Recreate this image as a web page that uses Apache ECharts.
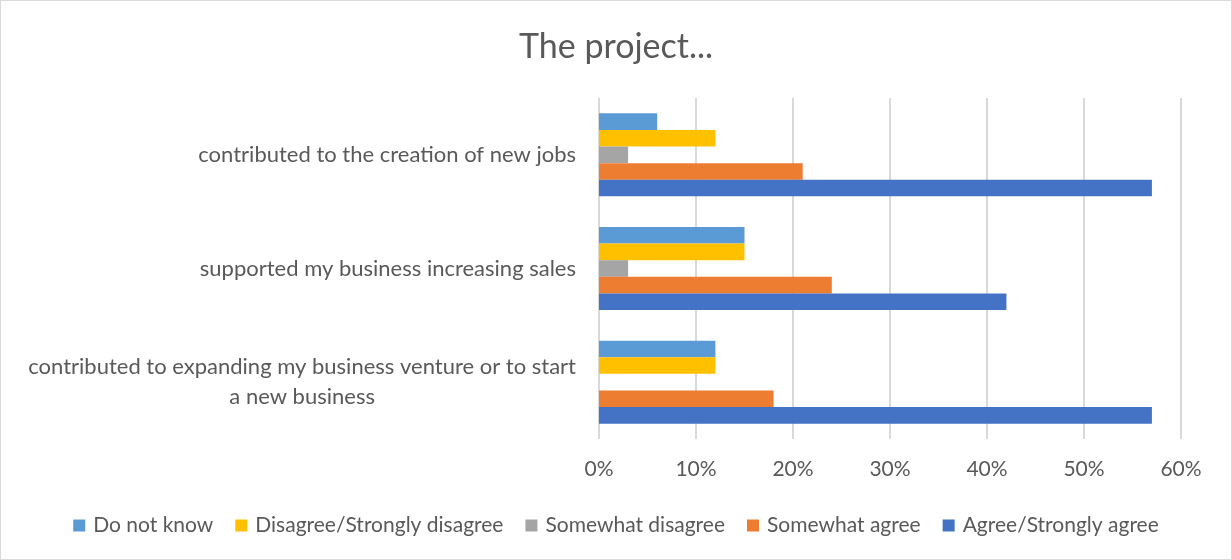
<!DOCTYPE html>
<html lang="en">
<head>
  <meta charset="UTF-8">
  <title>The project...</title>
  <script src="https://cdn.jsdelivr.net/npm/echarts@6.0.0/dist/echarts.min.js"></script>
  <style>
    * { margin: 0; padding: 0; box-sizing: border-box; }
    body { background: #fff; }
    #chart { width: 1232px; height: 560px; border: 1px solid #d9d9d9; }
  </style>
</head>
<body>
  <div id="chart"></div>
  <script>
    // categories, top to bottom
    var categories = [
      'contributed to the creation of new jobs',
      'supported my business increasing sales',
      'contributed to expanding my business venture or to start\na new business'
    ];
    var seriesNames = ['Do not know', 'Disagree/Strongly disagree', 'Somewhat disagree', 'Somewhat agree', 'Agree/Strongly agree'];
    var doNotKnow = [6, 15, 12];
    var disagree = [12, 15, 12];
    var somewhatDisagree = [3, 3, 0];
    var somewhatAgree = [21, 24, 18];
    var agree = [57, 42, 57];
    var xTicks = [0, 10, 20, 30, 40, 50, 60];

    var colors = ['#5B9BD5', '#FFC000', '#A5A5A5', '#ED7D31', '#4472C4'];
    var values = [doNotKnow, disagree, somewhatDisagree, somewhatAgree, agree];
    var font = 'Lato, "Open Sans", sans-serif';

    var chartDom = document.getElementById('chart');
    var myChart = echarts.init(chartDom);

    var option = {
      animation: false,
      color: colors,
      title: {
        text: 'The project...',
        left: 'center',
        top: 24,
        textStyle: { color: '#595959', fontSize: 34, fontWeight: 'normal', fontFamily: font }
      },
      legend: {
        data: seriesNames,
        bottom: 18,
        left: 'center',
        itemWidth: 12,
        itemHeight: 12,
        itemGap: 22,
        icon: 'rect',
        textStyle: { color: '#595959', fontSize: 21, fontFamily: font, padding: [0, 0, 0, 3] }
      },
      grid: { left: 598, right: 50, top: 97, bottom: 120, containLabel: false },
      xAxis: {
        type: 'value',
        min: xTicks[0],
        max: xTicks[xTicks.length - 1],
        interval: 10,
        axisLine: { show: false },
        axisTick: { show: false },
        axisLabel: {
          color: '#595959', fontSize: 21, fontFamily: font, margin: 20,
          formatter: function (v) { return v + '%'; }
        },
        splitLine: { lineStyle: { color: '#d9d9d9', width: 2 } }
      },
      yAxis: {
        type: 'category',
        inverse: true,
        data: categories,
        axisLine: { show: false },
        axisTick: { show: false },
        axisLabel: {
          color: '#595959', fontSize: 22, fontFamily: font, margin: 23,
          formatter: function (v) {
            return v.split('\n').map(function (s) { return '{c|' + s + '}'; }).join('\n');
          },
          rich: { c: { align: 'center', color: '#595959', fontSize: 22, fontFamily: font, lineHeight: 30 } }
        }
      },
      series: seriesNames.map(function (name, i) {
        return {
          name: name,
          type: 'bar',
          data: values[i],
          barGap: '0%',
          barCategoryGap: '27%',
          itemStyle: { color: colors[i] }
        };
      })
    };

    myChart.setOption(option);
  </script>
</body>
</html>
